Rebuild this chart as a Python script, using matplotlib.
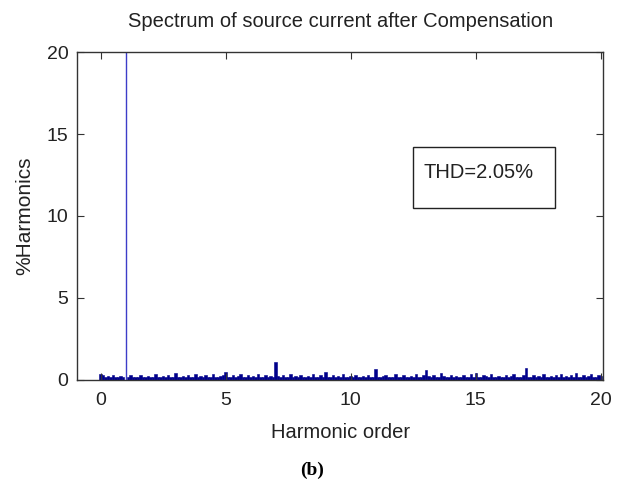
import numpy as np
import matplotlib
matplotlib.use('Agg')
import matplotlib.pyplot as plt
from matplotlib.patches import Rectangle

# harmonic magnitudes (% of fundamental), read at 0.1 steps from 0 to 20
orders = np.arange(0, 201) / 10.0
mags = [
    0.35, 0.30, 0.15, 0.25, 0.15, 0.30, 0.20, 0.15, 0.25, 0.15,   # 0
    100.0, 0.20, 0.30, 0.15, 0.20, 0.15, 0.30, 0.20, 0.15, 0.25,  # 1
    0.20, 0.15, 0.35, 0.15, 0.20, 0.25, 0.15, 0.30, 0.15, 0.20,   # 2
    0.40, 0.20, 0.15, 0.25, 0.15, 0.30, 0.20, 0.15, 0.35, 0.15,   # 3
    0.25, 0.15, 0.30, 0.20, 0.15, 0.35, 0.20, 0.15, 0.25, 0.30,   # 4
    0.45, 0.20, 0.15, 0.30, 0.15, 0.25, 0.35, 0.15, 0.20, 0.30,   # 5
    0.15, 0.25, 0.15, 0.35, 0.20, 0.15, 0.30, 0.15, 0.25, 0.20,   # 6
    1.10, 0.25, 0.15, 0.30, 0.15, 0.20, 0.35, 0.15, 0.25, 0.15,   # 7
    0.30, 0.20, 0.15, 0.25, 0.15, 0.35, 0.20, 0.15, 0.30, 0.15,   # 8
    0.50, 0.20, 0.15, 0.30, 0.15, 0.25, 0.20, 0.35, 0.15, 0.20,   # 9
    0.25, 0.15, 0.30, 0.20, 0.15, 0.25, 0.15, 0.30, 0.20, 0.15,   # 10
    0.65, 0.20, 0.15, 0.25, 0.30, 0.15, 0.20, 0.15, 0.35, 0.20,   # 11
    0.15, 0.30, 0.15, 0.20, 0.25, 0.15, 0.35, 0.20, 0.15, 0.30,   # 12
    0.60, 0.25, 0.15, 0.30, 0.20, 0.15, 0.40, 0.25, 0.15, 0.20,   # 13
    0.30, 0.15, 0.25, 0.20, 0.15, 0.30, 0.15, 0.20, 0.35, 0.15,   # 14
    0.40, 0.20, 0.15, 0.30, 0.25, 0.15, 0.35, 0.20, 0.15, 0.25,   # 15
    0.20, 0.15, 0.30, 0.15, 0.25, 0.35, 0.15, 0.20, 0.15, 0.30,   # 16
    0.75, 0.20, 0.15, 0.30, 0.15, 0.25, 0.20, 0.35, 0.15, 0.20,   # 17
    0.25, 0.15, 0.30, 0.20, 0.35, 0.15, 0.25, 0.15, 0.30, 0.20,   # 18
    0.40, 0.20, 0.15, 0.30, 0.15, 0.25, 0.35, 0.15, 0.20, 0.30,   # 19
    0.25,                                                         # 20
]
fund_order = 1.0
thd_text = 'THD=2.05%'

plt.rcParams['font.family'] = ['Liberation Sans Narrow', 'Liberation Sans', 'DejaVu Sans']

fig = plt.figure(figsize=(6.24, 4.92), dpi=100)
ax = fig.add_axes([0.123, 0.228, 0.844, 0.666])

mags = np.array(mags)
is_fund = np.isclose(orders, fund_order)
ax.bar(orders[~is_fund], mags[~is_fund], width=0.1, color='#00008b',
       edgecolor='#00008b', linewidth=0.4)
ax.vlines(orders[is_fund], 0, mags[is_fund], color='#3c3cc8', linewidth=1.0)

ax.set_xlim(-0.95, 20.1)
ax.set_ylim(0, 20)
ax.set_xticks([0, 5, 10, 15, 20])
ax.set_yticks([0, 5, 10, 15, 20])
ax.tick_params(direction='in', top=True, right=True, length=5, width=0.8,
               color='#333333', labelsize=14, labelcolor='#222222')
ax.tick_params(axis='x', pad=9)
ax.tick_params(axis='y', pad=6)
for s in ax.spines.values():
    s.set_color('#333333')
    s.set_linewidth(1.0)

ax.set_title('Spectrum of source current after Compensation', fontsize=14.5,
             color='#222222', pad=18)
ax.set_xlabel('Harmonic order', fontsize=14.5, color='#222222', labelpad=10)
ax.set_ylabel('%Harmonics', fontsize=15, color='#222222', labelpad=9)

ax.add_patch(Rectangle((0.639, 0.524), 0.27, 0.186, transform=ax.transAxes,
                       facecolor='white', edgecolor='#222222', linewidth=1.0))
ax.text(0.658, 0.634, thd_text, transform=ax.transAxes,
        ha='left', va='center', fontsize=14.5, color='#222222')

fig.text(0.5, 0.045, '(b)', ha='center', va='center', fontsize=14,
         fontweight='bold', family=['Liberation Serif', 'DejaVu Serif'])

fig.savefig('out.png', dpi=100)
